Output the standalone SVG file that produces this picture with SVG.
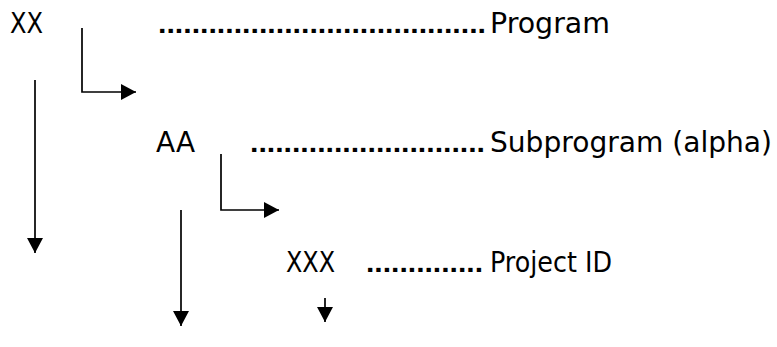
<svg xmlns="http://www.w3.org/2000/svg" width="777" height="347" viewBox="0 0 777 347">
<style>
.t{font-family:"DejaVu Sans","Liberation Sans",Arial,sans-serif;font-size:27.5px;fill:#000}
.d{font-family:"Liberation Sans",Arial,sans-serif;font-size:28px;font-weight:bold;fill:#000}
.c{fill:none;stroke:#000;stroke-width:1.7}
</style>
<defs>
<marker id="ah" markerUnits="userSpaceOnUse" markerWidth="16" markerHeight="16" refX="15" refY="8" orient="auto">
<path d="M0,0 L15,8 L0,16 z" fill="#000"/>
</marker>
</defs>
<rect width="777" height="347" fill="#fff"/>
<g id="program">
<text class="t" x="10" y="33" textLength="33" lengthAdjust="spacingAndGlyphs">XX</text>
<text class="d" x="158" y="33" textLength="328" lengthAdjust="spacingAndGlyphs">.......................................</text>
<text class="t" x="490" y="33" textLength="120" lengthAdjust="spacingAndGlyphs">Program</text>
</g>
<g id="subprogram">
<text class="t" x="156" y="152" textLength="39" lengthAdjust="spacingAndGlyphs">AA</text>
<text class="d" x="250" y="152" textLength="235" lengthAdjust="spacingAndGlyphs">............................</text>
<text class="t" x="490" y="152" textLength="282" lengthAdjust="spacingAndGlyphs">Subprogram (alpha)</text>
</g>
<g id="project">
<text class="t" x="286" y="272" textLength="49" lengthAdjust="spacingAndGlyphs">XXX</text>
<text class="d" x="366" y="272" textLength="117" lengthAdjust="spacingAndGlyphs">..............</text>
<text class="t" x="490" y="272" textLength="122" lengthAdjust="spacingAndGlyphs">Project ID</text>
</g>
<g id="connectors">
<path class="c" d="M82,28 V92 H136" marker-end="url(#ah)"/>
<path class="c" d="M35,80 V253" marker-end="url(#ah)"/>
<path class="c" d="M221,154 V210 H279" marker-end="url(#ah)"/>
<path class="c" d="M181,210 V326" marker-end="url(#ah)"/>
<path class="c" d="M325,298 V322" marker-end="url(#ah)"/>
</g>
</svg>
